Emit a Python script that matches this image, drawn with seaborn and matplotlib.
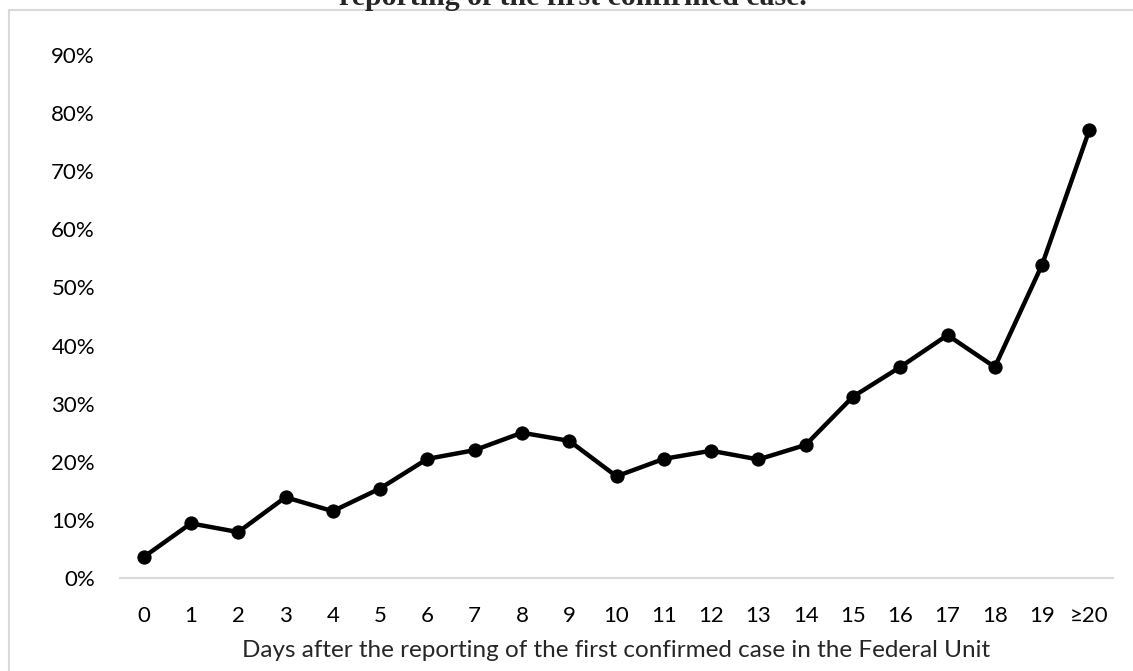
import numpy as np
import pandas as pd
import matplotlib
matplotlib.use("Agg")
import matplotlib.pyplot as plt
import seaborn as sns
from matplotlib.patches import Rectangle
from matplotlib.ticker import PercentFormatter, MultipleLocator

days = ["0", "1", "2", "3", "4", "5", "6", "7", "8", "9", "10",
        "11", "12", "13", "14", "15", "16", "17", "18", "19", "≥20"]
share = [0.036, 0.094, 0.079, 0.139, 0.115, 0.154, 0.205, 0.220, 0.250, 0.236, 0.175,
         0.205, 0.219, 0.204, 0.229, 0.312, 0.363, 0.418, 0.363, 0.539, 0.771]

title = "reporting of the first confirmed case."
xlabel = "Days after the reporting of the first confirmed case in the Federal Unit"

sns.set_style("white")
plt.rcParams["font.family"] = ["Lato", "DejaVu Sans"]

df = pd.DataFrame({"day": days, "share": share})

fig = plt.figure(figsize=(11.33, 6.71), dpi=100)
ax = fig.add_axes([120 / 1133, 1 - 578 / 671, 993 / 1133, 523 / 671])

sns.lineplot(data=df, x="day", y="share", ax=ax, color="black", linewidth=3.2,
             marker="o", markersize=9.5, markeredgecolor="black", sort=False)

ax.set_xlim(-0.5, len(days) - 0.5)
ax.set_ylim(0, 0.9)
ax.yaxis.set_major_locator(MultipleLocator(0.1))
ax.yaxis.set_major_formatter(PercentFormatter(1.0, decimals=0))
for s in ["top", "right", "left"]:
    ax.spines[s].set_visible(False)
ax.spines["bottom"].set_color("#d9d9d9")
ax.spines["bottom"].set_linewidth(1.5)
ax.tick_params(axis="both", length=0, labelsize=16, colors="black")
ax.tick_params(axis="y", pad=18)
ax.tick_params(axis="x", pad=20)
ax.set_xlabel(xlabel, fontsize=17.5, labelpad=10)
ax.set_ylabel("")

# chart border and cut-off caption
fig.patches.append(Rectangle((9 / 1133, -0.1), 1.2, 1 - 9.5 / 671 + 0.1, transform=fig.transFigure,
                             fill=False, edgecolor="#d9d9d9", linewidth=1.5))
fig.text(573 / 1133, 1 - 5 / 671, title, ha="center", va="baseline",
         fontsize=21.5, fontweight="bold", family=["Liberation Serif", "DejaVu Serif"])

fig.savefig("out.png", dpi=100, facecolor="white")
